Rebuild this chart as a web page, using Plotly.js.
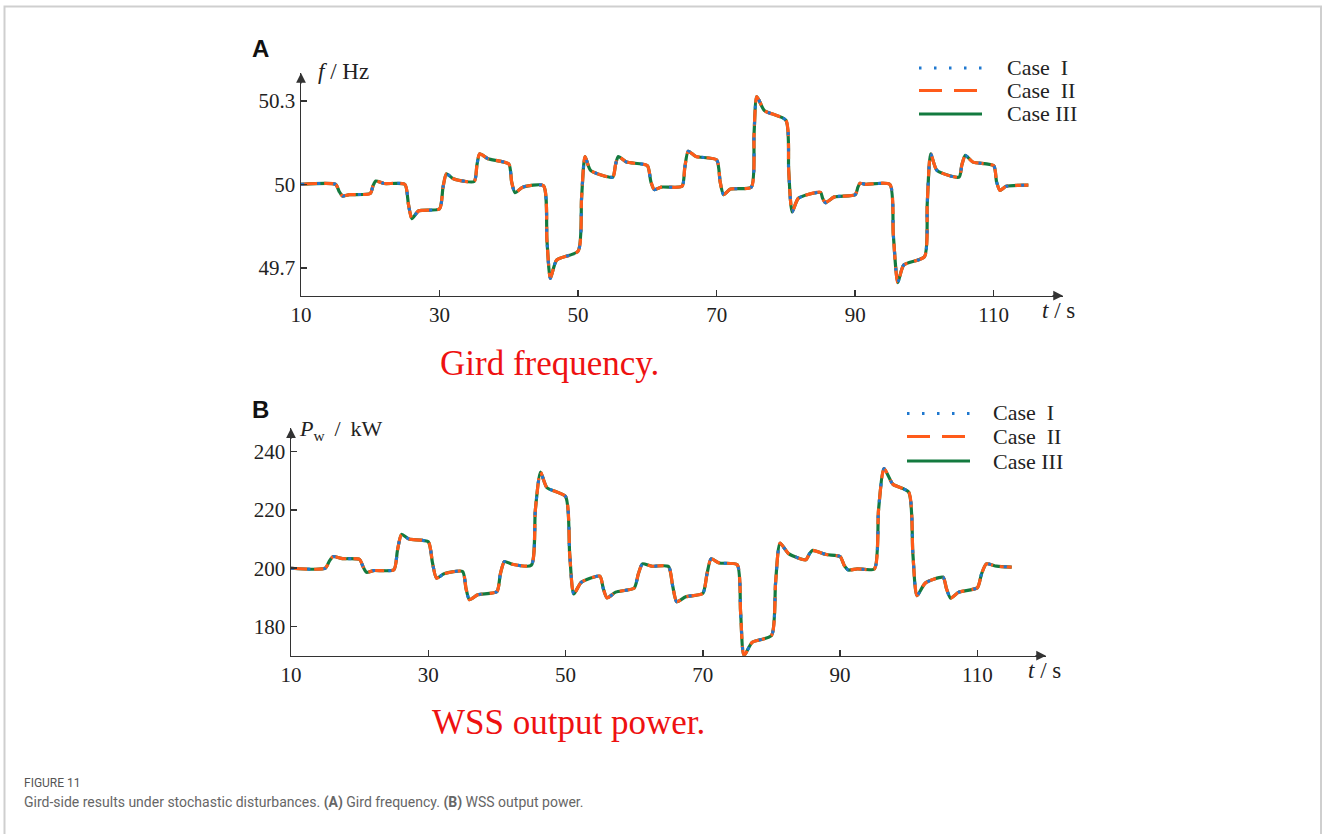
<!DOCTYPE html>
<html>
<head>
<meta charset="utf-8">
<script src="https://cdn.plot.ly/plotly-3.0.1.min.js"></script>
<style>html,body{margin:0;padding:0;background:#fff;}#chart{width:1328px;height:834px;}</style>
</head>
<body>
<div id="chart"></div>
<script>
// ---- Data ----
const caseNames = ["Case\u00a0\u00a0I", "Case\u00a0\u00a0II", "Case III"];

// Panel A: grid frequency (Hz) vs time (s)
const tA = [10,15,15.5,16.0,17,20,20.4,20.8,22,25,25.5,26.0,27,30,30.5,31.0,32,35,35.4,35.8,37,40,40.4,40.9,42,45,45.5,46.0,46.9,50,50.5,51.0,51.8,55,55.4,55.8,57,60,60.5,61.0,62,65,65.4,65.9,67,70,70.5,71.0,72,75,75.4,75.8,76.9,80,80.4,80.9,81.8,85,85.3,85.7,87,90,90.4,90.7,91.5,95,95.5,96.15,97,100,100.4,100.9,101.8,105,105.4,105.9,107,110,110.4,110.9,111.8,115];
const fA = [50,50,49.975,49.958,49.963,49.967,49.995,50.012,50.003,50.0,49.93,49.877,49.905,49.912,49.99,50.038,50.02,50.01,50.07,50.11,50.092,50.073,50.01,49.97,49.99,49.995,49.8,49.662,49.728,49.76,49.95,50.1,50.05,50.026,50.07,50.1,50.08,50.067,50.01,49.981,49.99,49.993,50.06,50.119,50.1,50.088,50.01,49.963,49.983,49.99,50.18,50.315,50.265,50.23,50.05,49.901,49.95,49.971,49.95,49.934,49.955,49.963,49.99,50.004,50.0,50.0,49.82,49.647,49.71,49.74,49.93,50.11,50.05,50.026,50.07,50.104,50.08,50.067,50.01,49.978,49.993,49.997];

// Panel B: WSS output power (kW) vs time (s)
const tB = [10,15,15.6,16.15,17.5,20,20.5,21.0,22,25,25.5,26.1,27.2,30,30.6,31.2,32.3,35,35.5,36.0,37.2,40,40.5,41.1,42.2,45,45.6,46.35,47.3,50,50.6,51.2,52.3,55,55.5,56.05,57.3,60,60.6,61.2,62.5,65,65.6,66.2,67.5,70,70.6,71.2,72.4,75,75.5,76.0,77.2,80,80.6,81.25,82.5,85,85.5,85.95,88,90,90.6,91.2,92.5,95,95.6,96.4,97.7,100,100.6,101.2,102.4,105,105.5,106.1,107.3,110,110.6,111.3,112.8,115];
const pB = [200,200,202.5,204.0,203.3,203.0,200.5,198.6,199.2,199.5,206,211.6,210.0,209.1,202,196.6,198.1,198.9,193,189.2,190.9,192.0,198,202.3,201.4,201.0,220,233.0,227.6,224.6,205,191.2,195.2,197.3,193,189.8,191.8,193.2,198,201.5,200.7,200.6,194,188.5,190.2,191.4,198,203.2,201.8,201.2,185,170,174.6,176.9,195,208.6,205.0,202.9,204.8,206.1,204.7,204.0,201,199.4,199.8,199.8,220,234.2,228.8,226.1,205,190.6,194.9,196.9,193,189.7,191.8,193.3,198,201.5,200.7,200.4];

const xTicks = [10,30,50,70,90,110];
const yTicksA = [49.7,50,50.3];
const yTicksB = [180,200,220,240];

// ---- Styles ----
const GREEN = '#137a3f', ORANGE = '#ff5b1a', BLUE = '#1f78cf';
const styles = [
  {color: BLUE,   width: 3,   dash: '3px,13px'},
  {color: ORANGE, width: 3.2, dash: '16px,7px'},
  {color: GREEN,  width: 3.2, dash: 'solid'}
];
const drawOrder = [2,1,0];
const SERIF = '"Liberation Serif", "Times New Roman", serif';
const AX = '#333';

const traces = [];
[[tA,fA,'x','y'],[tB,pB,'x2','y2']].forEach(([xs,ys,xa,ya]) => {
  drawOrder.forEach(i => {
    traces.push({
      type:'scatter', mode:'lines', x: xs, y: ys, xaxis: xa, yaxis: ya,
      name: caseNames[i], showlegend:false, hoverinfo:'skip',
      line: {color: styles[i].color, width: styles[i].width, dash: styles[i].dash, shape:'spline', smoothing:0.6}
    });
  });
});

const W = 1328, H = 834;
const px = v => v / W;
const py = v => 1 - v / H;

function axisX(domain, anchor) {
  return {domain, anchor, range:[10,120], showline:true, linecolor:AX, linewidth:1.5,
    ticks:'inside', ticklen:6, tickwidth:1.5, tickcolor:AX, tickvals:xTicks, ticktext:xTicks.map(String),
    showgrid:false, zeroline:false, tickfont:{family:SERIF, size:21, color:'#222'}, fixedrange:true};
}
function axisY(domain, anchor, range, vals) {
  return {domain, anchor, range, showline:true, linecolor:AX, linewidth:1.5,
    ticks:'inside', ticklen:6, tickwidth:1.5, tickcolor:AX, tickvals:vals, ticktext:vals.map(String),
    showgrid:false, zeroline:false, tickfont:{family:SERIF, size:21, color:'#222'}, fixedrange:true};
}

const shapes = [
  // figure frame
  {type:'rect', xref:'paper', yref:'paper', x0:px(4.5), x1:px(1321), y0:py(900), y1:py(6.5),
   line:{color:'#cfcfcf', width:2}, fillcolor:'rgba(0,0,0,0)', layer:'below'}
];
// legend samples
function legendSamples(x0, x1, ys) {
  [0,1,2].forEach(i => {
    shapes.push({type:'line', xref:'paper', yref:'paper', x0:px(x0), x1:px(x1), y0:py(ys[i]), y1:py(ys[i]),
      line:{color:styles[i].color, width: i===0 ? 3 : 3.2, dash: i===0 ? '2.5px,12.5px' : (i===1 ? '23px,12px' : 'solid')}});
  });
}
legendSamples(919, 982, [68, 90.5, 114]);
legendSamples(907, 970, [413.5, 436.5, 461]);

const annotations = [];
function txt(text, x, y, size, opts={}) {
  annotations.push(Object.assign({text, xref:'paper', yref:'paper', x:px(x), y:py(y),
    xanchor:'left', yanchor:'middle', showarrow:false,
    font:{family:SERIF, size, color:'#222'}}, opts));
}
// legend labels
[0,1,2].forEach(i => txt(caseNames[i], 1005, [67.5,90.5,113.5][i], 22));
[0,1,2].forEach(i => txt(caseNames[i], 991, [412.5,436.5,461][i], 22));
// axis titles
txt('<i>f</i> / Hz', 316, 71, 23);
txt('<i>t</i> / s', 1040, 310, 23);
txt('<i>P</i><sub>w</sub>\u2009 / \u2009kW', 297, 430, 22);
txt('<i>t</i> / s', 1026, 670, 23);
// panel letters
txt('<b>A</b>', 250, 49, 24, {font:{family:'"Liberation Sans", Arial, sans-serif', size:24, color:'#111'}});
txt('<b>B</b>', 250, 409, 24, {font:{family:'"Liberation Sans", Arial, sans-serif', size:24, color:'#111'}});
// red subtitles
txt('Gird frequency.', 549, 364, 35, {xanchor:'center', font:{family:SERIF, size:35, color:'#ee1111'}});
txt('WSS output power.', 568, 722, 35, {xanchor:'center', font:{family:SERIF, size:35, color:'#ee1111'}});
// caption
txt('FIGURE 11', 22, 783, 12, {font:{family:'Roboto, sans-serif', size:12, color:'#555'}});
txt('Gird-side results under stochastic disturbances. <b>(A)</b> Gird frequency. <b>(B)</b> WSS output power.', 22, 802, 14,
    {font:{family:'Roboto, sans-serif', size:14, color:'#666'}});

// axis arrows
function arrow(xref, yref, x, y, ax, ay) {
  annotations.push({xref, yref, x, y, ax, ay, text:'', showarrow:true,
    arrowhead:2, arrowsize:1.3, arrowwidth:1.5, arrowcolor:AX});
}
arrow('x','y',120,49.6,-12,0);
arrow('x','y',10,50.4,0,12);
arrow('x2','y2',120,170,-12,0);
arrow('x2','y2',10,248,0,12);

const layout = {
  width: W, height: H, margin:{l:0,r:0,t:0,b:0}, paper_bgcolor:'#fff', plot_bgcolor:'rgba(0,0,0,0)',
  showlegend:false,
  xaxis: axisX([px(301), px(1063)], 'y'),
  yaxis: axisY([py(295.7), py(73)], 'x', [49.6, 50.4], yTicksA),
  xaxis2: axisX([px(291), px(1046)], 'y2'),
  yaxis2: axisY([py(655.7), py(428.3)], 'x2', [170, 248], yTicksB),
  shapes, annotations
};

Plotly.newPlot('chart', traces, layout, {staticPlot:true, displayModeBar:false});
</script>
</body>
</html>
